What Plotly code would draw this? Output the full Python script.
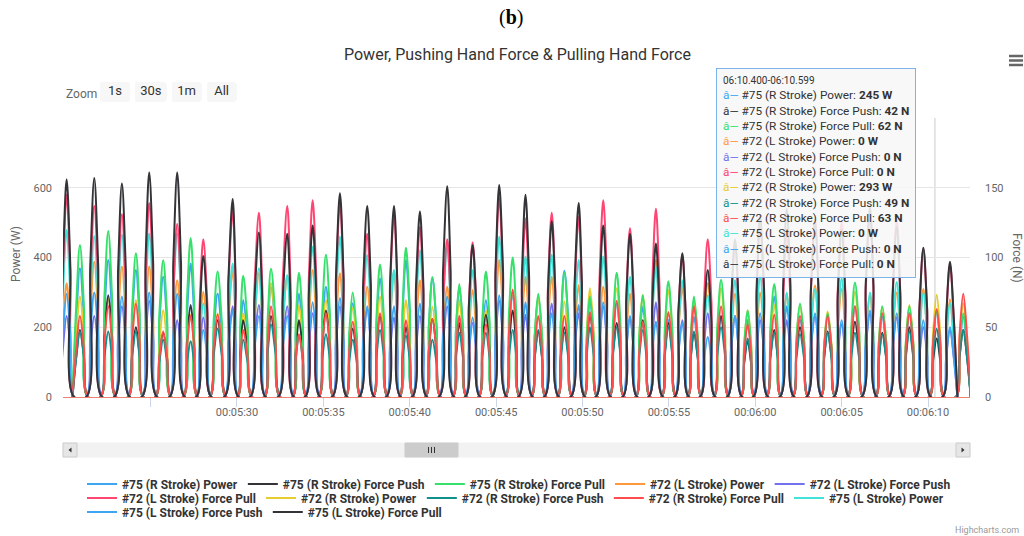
import plotly.graph_objects as go
import pandas as pd

# ---------------- data ----------------
BASE = pd.Timestamp("2000-01-01 00:05:00")   # seconds below are offsets from 00:05:00

# peak times (s) of the left-stroke humps and right-stroke humps
L_TIMES = [20.14, 21.74, 23.34, 24.92, 26.54, 28.05, 29.75, 31.27, 32.91, 34.38, 35.96, 37.54,
           39.09, 40.59, 42.17, 43.64, 45.18, 46.70, 48.22, 49.78, 51.20, 52.75, 54.25, 55.78,
           57.25, 58.83, 60.28, 61.82, 63.46, 65.00, 66.64, 68.19, 69.73, 71.27]
R_TIMES = [20.91, 22.55, 24.15, 25.73, 27.32, 28.88, 30.36, 31.97, 33.59, 35.15, 36.70, 38.28,
           39.78, 41.31, 42.87, 44.41, 45.96, 47.44, 48.95, 50.43, 51.98, 53.49, 54.97, 56.45,
           58.02, 59.56, 61.10, 62.59, 64.19, 65.77, 67.35, 68.92, 70.50, 72.04]

# right-stroke peaks
P75_R_POWER = [369, 393, 364, 345, 383, 297, 278, 316, 297, 316, 269, 340, 393, 340, 316, 278, 297,
               288, 362, 278, 269, 259, 221, 230, 230, 221, 288, 221, 230, 260, 230, 240, 245, 230]
P75_R_PUSH = [48, 73, 50, 46, 66, 55, 55, 58, 55, 62, 49, 58, 50, 56, 53, 59, 62,
              47, 50, 60, 53, 55, 53, 46, 58, 40, 48, 50, 47, 54, 46, 50, 42, 48]
P75_R_PULL = [109, 119, 103, 98, 114, 90, 87, 92, 89, 102, 75, 95, 107, 86, 81, 90, 100,
              74, 89, 72, 89, 73, 83, 72, 84, 62, 81, 67, 60, 82, 65, 65, 62, 60]
P72_R_POWER = [288, 283, 278, 249, 235, 240, 240, 326, 264, 278, 255, 288, 278, 259, 278, 249, 307,
               283, 274, 312, 312, 293, 307, 274, 312, 249, 264, 264, 245, 302, 259, 264, 293, 269]
P72_R_PUSH = [47, 47, 47, 41, 40, 49, 41, 52, 44, 45, 41, 48, 44, 41, 46, 46, 48,
              48, 46, 50, 50, 48, 50, 47, 50, 42, 46, 45, 46, 46, 45, 47, 49, 48]
P72_R_PULL = [58, 65, 67, 47, 58, 59, 48, 65, 45, 60, 54, 60, 55, 56, 58, 52, 77,
              58, 58, 61, 69, 54, 61, 65, 65, 52, 59, 58, 58, 65, 60, 60, 63, 74]

# left-stroke peaks
P72_L_POWER = [326, 388, 374, 374, 335, 302, 364, 355, 345, 364, 355, 316, 360, 335, 316, 307, 393,
               345, 345, 321, 316, 297, 393, 316, 326, 297, 300, 298, 320, 310, 290, 300, 310, 280]
P72_L_PUSH = [58, 58, 65, 69, 55, 57, 65, 66, 65, 60, 65, 63, 57, 58, 65, 53, 69,
              59, 67, 60, 65, 57, 68, 55, 60, 58, 55, 55, 58, 52, 60, 57, 50, 48]
P72_L_PULL = [145, 137, 131, 139, 124, 113, 134, 132, 137, 141, 139, 117, 131, 122, 113, 111, 143,
              128, 132, 129, 141, 121, 135, 102, 113, 110, 122, 118, 128, 126, 130, 127, 106, 95]
P75_L_POWER = [479, 462, 465, 469, 469, 269, 383, 369, 350, 431, 460, 407, 364, 421, 431, 364, 460,
               403, 408, 393, 403, 345, 374, 335, 292, 335, 350, 300, 310, 340, 300, 330, 300, 270]
P75_L_PUSH = [74, 75, 72, 75, 74, 48, 62, 58, 58, 68, 71, 65, 65, 67, 72, 57, 73,
              68, 60, 66, 68, 58, 54, 53, 43, 58, 60, 65, 60, 55, 62, 60, 55, 50]
P75_L_PULL = [156, 157, 153, 161, 161, 101, 142, 118, 117, 123, 146, 137, 137, 133, 151, 109, 152,
              145, 126, 139, 123, 117, 110, 103, 91, 113, 130, 135, 125, 120, 136, 122, 107, 97]

SERIES_NAMES = ["#75 (R Stroke) Power", "#75 (R Stroke) Force Push", "#75 (R Stroke) Force Pull",
                "#72 (L Stroke) Power", "#72 (L Stroke) Force Push", "#72 (L Stroke) Force Pull",
                "#72 (R Stroke) Power", "#72 (R Stroke) Force Push", "#72 (R Stroke) Force Pull",
                "#75 (L Stroke) Power", "#75 (L Stroke) Force Push", "#75 (L Stroke) Force Pull"]
SERIES_VALUES = [P75_R_POWER, P75_R_PUSH, P75_R_PULL, P72_L_POWER, P72_L_PUSH, P72_L_PULL,
                 P72_R_POWER, P72_R_PUSH, P72_R_PULL, P75_L_POWER, P75_L_PUSH, P75_L_PULL]
SERIES_STROKE = ["R", "R", "R", "L", "L", "L", "R", "R", "R", "L", "L", "L"]
SERIES_UNIT = ["W", "N", "N", "W", "N", "N", "W", "N", "N", "W", "N", "N"]
COLORS = ["#3fa7f2", "#333338", "#36e06a", "#ff9a3c", "#7272ee", "#ff4572",
          "#e6cc2e", "#118f8b", "#ff4d4d", "#40e3d8", "#3fa7f2", "#333338"]
LEGEND_ROW = ["legend"] * 5 + ["legend2"] * 5 + ["legend3"] * 2

X_TICK_SECONDS = [25, 30, 35, 40, 45, 50, 55, 60, 65, 70]
X_TICK_LABELS = ["", "00:05:30", "00:05:35", "00:05:40", "00:05:45", "00:05:50",
                 "00:05:55", "00:06:00", "00:06:05", "00:06:10"]
X_RANGE = [19.93, 72.43]
POWER_TICKS = [0, 200, 400, 600, 800]
POWER_LABELS = ["0", "200", "400", "600", ""]
FORCE_TICKS = [0, 50, 100, 150, 200]
FORCE_LABELS = ["0", "50", "100", "150", ""]

TOOLTIP_HEADER = "06:10.400-06:10.599"
TOOLTIP_TIME = 70.40
TOOLTIP_R_INDEX = 32

# stroke drawing style: base half-width relative to gap to the neighbouring stroke,
# and the relative height of the curve half-way between base and peak
HUMP_BASE = 0.56
HUMP_SHOULDER = 0.6

# ---------------- helpers ----------------
W, H = 1024, 536
ML, MR, MT, MB = 63, 54, 118, 139
PW, PH = W - ML - MR, H - MT - MB


def ts(sec):
    return BASE + pd.to_timedelta(sec, unit="s")


def px(x):
    return (x - ML) / PW


def py(y):
    return (H - MB - y) / PH


def hump_points(peaks, others, values):
    xs, ys = [], []
    for t, v in zip(peaks, values):
        before = [o for o in others if o < t]
        after = [o for o in others if o > t]
        gl = (t - before[-1]) if before else (after[0] - t)
        gr = (after[0] - t) if after else (t - before[-1])
        t0 = t - HUMP_BASE * gl
        t1 = t + HUMP_BASE * gr
        xs += [ts(t0), ts((t0 + t) / 2), ts(t), ts((t + t1) / 2), ts(t1)]
        ys += [0, HUMP_SHOULDER * v, v, HUMP_SHOULDER * v, 0]
    return xs, ys


FONT = "Roboto"
fig = go.Figure()

for name, vals, stroke, unit, col, lg in zip(SERIES_NAMES, SERIES_VALUES, SERIES_STROKE,
                                             SERIES_UNIT, COLORS, LEGEND_ROW):
    if stroke == "R":
        xs, ys = hump_points(R_TIMES, L_TIMES, vals)
    else:
        xs, ys = hump_points(L_TIMES, R_TIMES, vals)
    fig.add_trace(go.Scatter(
        x=xs, y=ys, name=name, mode="lines", legend=lg,
        line=dict(color=col, width=2, shape="spline", smoothing=1.0),
        yaxis="y" if unit == "W" else "y2", hoverinfo="skip"))

# ---------------- layout ----------------
legend_style = dict(orientation="h", x=px(82), xanchor="left", yanchor="middle",
                    font=dict(family=FONT, size=12, color="#333333", weight="bold"),
                    itemwidth=30, bgcolor="rgba(0,0,0,0)", borderwidth=0)

fig.update_layout(
    width=W, height=H,
    margin=dict(l=ML, r=MR, t=MT, b=MB, autoexpand=False),
    paper_bgcolor="white", plot_bgcolor="white",
    font=dict(family=FONT, color="#333333"),
    showlegend=True,
    legend=dict(legend_style, y=py(484)),
    legend2=dict(legend_style, y=py(498)),
    legend3=dict(legend_style, y=py(512)),
    xaxis=dict(
        type="date", range=[ts(X_RANGE[0]), ts(X_RANGE[1])],
        tickmode="array", tickvals=[ts(s) for s in X_TICK_SECONDS], ticktext=X_TICK_LABELS,
        showgrid=False, zeroline=False, showline=True, linecolor="#ef7f6f", linewidth=1,
        ticks="outside", ticklen=9, tickcolor="#ccd6eb", tickwidth=1, ticklabelstandoff=-4,
        tickfont=dict(family=FONT, size=11, color="#666666"),
        rangeslider=dict(visible=False),
        rangeselector=dict(
            buttons=[dict(count=1, label="1s", step="second", stepmode="backward"),
                     dict(count=30, label="30s", step="second", stepmode="backward"),
                     dict(count=1, label="1m", step="minute", stepmode="backward"),
                     dict(label="All", step="all")],
            x=px(100), xanchor="left", y=py(82), yanchor="top",
            bgcolor="#f7f7f7", activecolor="#f7f7f7", borderwidth=0,
            font=dict(family=FONT, size=13, color="#333333")),
    ),
    yaxis=dict(range=[0, 800], tickmode="array", tickvals=POWER_TICKS, ticktext=POWER_LABELS,
               showgrid=True, gridcolor="#e6e6e6", gridwidth=1, zeroline=False, showline=False,
               tickfont=dict(family=FONT, size=11, color="#666666"), ticklabelstandoff=10),
    yaxis2=dict(range=[0, 200], overlaying="y", side="right", tickmode="array",
                tickvals=FORCE_TICKS, ticktext=FORCE_LABELS, showgrid=False, zeroline=False,
                showline=False, tickfont=dict(family=FONT, size=11, color="#666666"),
                ticklabelstandoff=14),
)

ann = []


def add_text(text, x, y, size, color="#333333", family=FONT, xanchor="center", angle=0):
    ann.append(dict(text=text, x=px(x), y=py(y), xref="paper", yref="paper", showarrow=False,
                    xanchor=xanchor, yanchor="middle", textangle=angle,
                    font=dict(family=family, size=size, color=color)))


add_text("(<b>b</b>)", 511, 18, 20, "#000000", family="Liberation Serif")
add_text("Power, Pushing Hand Force & Pulling Hand Force", 517, 54, 16, "#333333")
add_text("Zoom", 64, 94, 12, "#666666", xanchor="left")
add_text("Power (W)", 16, 254, 12, "#666666", angle=-90)
add_text("Force (N)", 1017, 258, 12, "#666666", angle=90)
add_text("Highcharts.com", 1021, 530, 9, "#999999", xanchor="right")

# tooltip built from the data arrays
lines = [f"<span style='font-size:10px'>{TOOLTIP_HEADER}</span>"]
for name, vals, stroke, unit, col in zip(SERIES_NAMES, SERIES_VALUES, SERIES_STROKE, SERIES_UNIT, COLORS):
    v = vals[TOOLTIP_R_INDEX] if stroke == "R" else 0
    lines.append(f"<span style='color:{col}'>â—</span> {name}: <b>{v} {unit}</b>")
ann.append(dict(text="<br>".join(lines), x=px(716), y=py(68), xref="paper", yref="paper",
                xanchor="left", yanchor="top", align="left", showarrow=False,
                bgcolor="rgba(247,247,247,0.88)", bordercolor="#7cb5ec", borderwidth=1, borderpad=6,
                font=dict(family=FONT, size=11.8, color="#333333")))
fig.update_layout(annotations=ann)

shapes = []
# crosshair
shapes.append(dict(type="line", xref="x", yref="paper", x0=ts(TOOLTIP_TIME), x1=ts(TOOLTIP_TIME),
                   y0=0, y1=1, line=dict(color="#cccccc", width=1), layer="below"))
# scrollbar
shapes.append(dict(type="rect", xref="paper", yref="paper", x0=px(63), x1=px(970), y0=py(443),
                   y1=py(457), fillcolor="#f2f2f2", line=dict(color="#f2f2f2", width=1)))
for a, b in [(63, 77), (956, 970)]:
    shapes.append(dict(type="rect", xref="paper", yref="paper", x0=px(a), x1=px(b), y0=py(443),
                       y1=py(457), fillcolor="#e6e6e6", line=dict(color="#cccccc", width=1)))
shapes.append(dict(type="path", xref="paper", yref="paper",
                   path=f"M {px(71.5)} {py(447.5)} L {px(68.5)} {py(450)} L {px(71.5)} {py(452.5)} Z",
                   fillcolor="#333333", line=dict(color="#333333", width=0)))
shapes.append(dict(type="path", xref="paper", yref="paper",
                   path=f"M {px(961.5)} {py(447.5)} L {px(964.5)} {py(450)} L {px(961.5)} {py(452.5)} Z",
                   fillcolor="#333333", line=dict(color="#333333", width=0)))
shapes.append(dict(type="rect", xref="paper", yref="paper", x0=px(405), x1=px(458), y0=py(443),
                   y1=py(457), fillcolor="#cccccc", line=dict(color="#cccccc", width=1)))
for gx in [428.5, 431.5, 434.5]:
    shapes.append(dict(type="line", xref="paper", yref="paper", x0=px(gx), x1=px(gx), y0=py(447),
                       y1=py(453), line=dict(color="#333333", width=1)))
# menu icon
for gy in [56, 60.5, 65]:
    shapes.append(dict(type="line", xref="paper", yref="paper", x0=px(1009), x1=px(1023), y0=py(gy),
                       y1=py(gy), line=dict(color="#666666", width=2.5)))
fig.update_layout(shapes=shapes)

fig.write_html("out.html", config={"displayModeBar": False},
               post_script="document.body.style.margin='0';")
